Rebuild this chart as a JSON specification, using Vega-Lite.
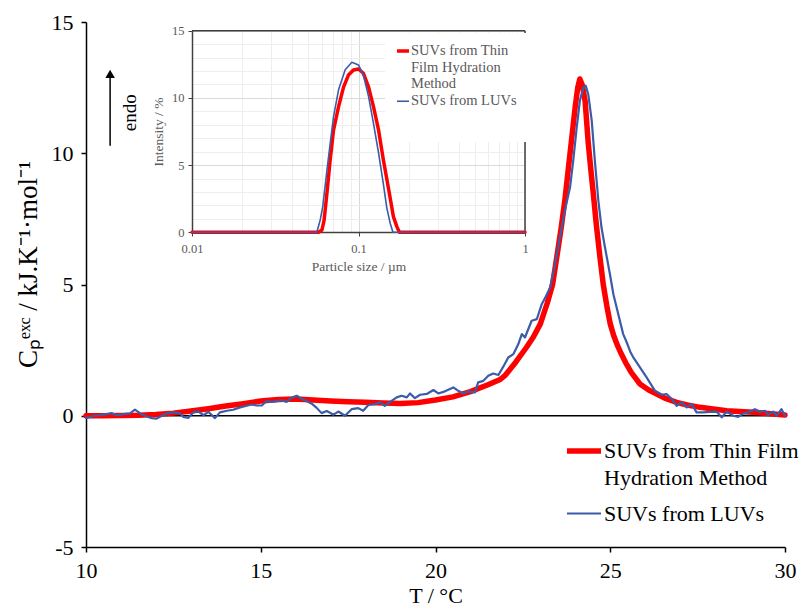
{
  "$schema": "https://vega.github.io/schema/vega-lite/v6.json",
  "autosize": "none",
  "width": 699,
  "height": 525,
  "padding": {"left": 86, "top": 22, "right": 16, "bottom": 62},
  "background": "white",
  "config": {"font": "Liberation Serif", "view": {"stroke": null}},
  "datasets": {
    "main": [
      {"series": "SUVs from Thin Film Hydration Method", "T": 10.0, "C": 0.0},
      {"series": "SUVs from Thin Film Hydration Method", "T": 10.5, "C": 0.0},
      {"series": "SUVs from Thin Film Hydration Method", "T": 11.0, "C": 0.01},
      {"series": "SUVs from Thin Film Hydration Method", "T": 11.5, "C": 0.02},
      {"series": "SUVs from Thin Film Hydration Method", "T": 12.0, "C": 0.05},
      {"series": "SUVs from Thin Film Hydration Method", "T": 12.5, "C": 0.1},
      {"series": "SUVs from Thin Film Hydration Method", "T": 13.0, "C": 0.18},
      {"series": "SUVs from Thin Film Hydration Method", "T": 13.5, "C": 0.27},
      {"series": "SUVs from Thin Film Hydration Method", "T": 14.0, "C": 0.37},
      {"series": "SUVs from Thin Film Hydration Method", "T": 14.5, "C": 0.46},
      {"series": "SUVs from Thin Film Hydration Method", "T": 15.0, "C": 0.56},
      {"series": "SUVs from Thin Film Hydration Method", "T": 15.5, "C": 0.62},
      {"series": "SUVs from Thin Film Hydration Method", "T": 16.0, "C": 0.64},
      {"series": "SUVs from Thin Film Hydration Method", "T": 16.5, "C": 0.6},
      {"series": "SUVs from Thin Film Hydration Method", "T": 17.0, "C": 0.56},
      {"series": "SUVs from Thin Film Hydration Method", "T": 17.5, "C": 0.53},
      {"series": "SUVs from Thin Film Hydration Method", "T": 18.0, "C": 0.51},
      {"series": "SUVs from Thin Film Hydration Method", "T": 18.5, "C": 0.49},
      {"series": "SUVs from Thin Film Hydration Method", "T": 19.0, "C": 0.47},
      {"series": "SUVs from Thin Film Hydration Method", "T": 19.5, "C": 0.5},
      {"series": "SUVs from Thin Film Hydration Method", "T": 20.0, "C": 0.6},
      {"series": "SUVs from Thin Film Hydration Method", "T": 20.5, "C": 0.72},
      {"series": "SUVs from Thin Film Hydration Method", "T": 21.0, "C": 0.92},
      {"series": "SUVs from Thin Film Hydration Method", "T": 21.5, "C": 1.18},
      {"series": "SUVs from Thin Film Hydration Method", "T": 21.85, "C": 1.38},
      {"series": "SUVs from Thin Film Hydration Method", "T": 22.0, "C": 1.55},
      {"series": "SUVs from Thin Film Hydration Method", "T": 22.3, "C": 2.05},
      {"series": "SUVs from Thin Film Hydration Method", "T": 22.6, "C": 2.6},
      {"series": "SUVs from Thin Film Hydration Method", "T": 22.8, "C": 3.0},
      {"series": "SUVs from Thin Film Hydration Method", "T": 23.0, "C": 3.5},
      {"series": "SUVs from Thin Film Hydration Method", "T": 23.2, "C": 4.3},
      {"series": "SUVs from Thin Film Hydration Method", "T": 23.35, "C": 5.0},
      {"series": "SUVs from Thin Film Hydration Method", "T": 23.5, "C": 6.3},
      {"series": "SUVs from Thin Film Hydration Method", "T": 23.6, "C": 7.2},
      {"series": "SUVs from Thin Film Hydration Method", "T": 23.7, "C": 8.2},
      {"series": "SUVs from Thin Film Hydration Method", "T": 23.8, "C": 9.4},
      {"series": "SUVs from Thin Film Hydration Method", "T": 23.9, "C": 10.6},
      {"series": "SUVs from Thin Film Hydration Method", "T": 24.0, "C": 11.8},
      {"series": "SUVs from Thin Film Hydration Method", "T": 24.07, "C": 12.5},
      {"series": "SUVs from Thin Film Hydration Method", "T": 24.13, "C": 12.83},
      {"series": "SUVs from Thin Film Hydration Method", "T": 24.2, "C": 12.6},
      {"series": "SUVs from Thin Film Hydration Method", "T": 24.28, "C": 12.0},
      {"series": "SUVs from Thin Film Hydration Method", "T": 24.37, "C": 10.4},
      {"series": "SUVs from Thin Film Hydration Method", "T": 24.45, "C": 9.3},
      {"series": "SUVs from Thin Film Hydration Method", "T": 24.52, "C": 8.4},
      {"series": "SUVs from Thin Film Hydration Method", "T": 24.6, "C": 7.3},
      {"series": "SUVs from Thin Film Hydration Method", "T": 24.7, "C": 6.1},
      {"series": "SUVs from Thin Film Hydration Method", "T": 24.8, "C": 5.0},
      {"series": "SUVs from Thin Film Hydration Method", "T": 24.9, "C": 4.2},
      {"series": "SUVs from Thin Film Hydration Method", "T": 25.0, "C": 3.5},
      {"series": "SUVs from Thin Film Hydration Method", "T": 25.1, "C": 3.05},
      {"series": "SUVs from Thin Film Hydration Method", "T": 25.2, "C": 2.7},
      {"series": "SUVs from Thin Film Hydration Method", "T": 25.3, "C": 2.4},
      {"series": "SUVs from Thin Film Hydration Method", "T": 25.45, "C": 2.0},
      {"series": "SUVs from Thin Film Hydration Method", "T": 25.6, "C": 1.65},
      {"series": "SUVs from Thin Film Hydration Method", "T": 25.85, "C": 1.21},
      {"series": "SUVs from Thin Film Hydration Method", "T": 26.1, "C": 0.98},
      {"series": "SUVs from Thin Film Hydration Method", "T": 26.33, "C": 0.83},
      {"series": "SUVs from Thin Film Hydration Method", "T": 26.6, "C": 0.65},
      {"series": "SUVs from Thin Film Hydration Method", "T": 26.9, "C": 0.51},
      {"series": "SUVs from Thin Film Hydration Method", "T": 27.2, "C": 0.41},
      {"series": "SUVs from Thin Film Hydration Method", "T": 27.57, "C": 0.32},
      {"series": "SUVs from Thin Film Hydration Method", "T": 28.0, "C": 0.25},
      {"series": "SUVs from Thin Film Hydration Method", "T": 28.33, "C": 0.19},
      {"series": "SUVs from Thin Film Hydration Method", "T": 28.7, "C": 0.16},
      {"series": "SUVs from Thin Film Hydration Method", "T": 29.09, "C": 0.13},
      {"series": "SUVs from Thin Film Hydration Method", "T": 29.5, "C": 0.09},
      {"series": "SUVs from Thin Film Hydration Method", "T": 30.0, "C": 0.03},
      {"series": "SUVs from LUVs", "T": 10.0, "C": -0.08},
      {"series": "SUVs from LUVs", "T": 10.1, "C": -0.05},
      {"series": "SUVs from LUVs", "T": 10.21, "C": 0.0},
      {"series": "SUVs from LUVs", "T": 10.4, "C": 0.02},
      {"series": "SUVs from LUVs", "T": 10.59, "C": 0.06},
      {"series": "SUVs from LUVs", "T": 10.73, "C": 0.1},
      {"series": "SUVs from LUVs", "T": 10.88, "C": 0.02},
      {"series": "SUVs from LUVs", "T": 11.07, "C": 0.06},
      {"series": "SUVs from LUVs", "T": 11.26, "C": 0.09},
      {"series": "SUVs from LUVs", "T": 11.4, "C": 0.23},
      {"series": "SUVs from LUVs", "T": 11.55, "C": 0.09},
      {"series": "SUVs from LUVs", "T": 11.74, "C": -0.03},
      {"series": "SUVs from LUVs", "T": 11.88, "C": -0.09},
      {"series": "SUVs from LUVs", "T": 12.02, "C": -0.11},
      {"series": "SUVs from LUVs", "T": 12.17, "C": 0.0},
      {"series": "SUVs from LUVs", "T": 12.31, "C": 0.09},
      {"series": "SUVs from LUVs", "T": 12.5, "C": 0.13},
      {"series": "SUVs from LUVs", "T": 12.69, "C": 0.09},
      {"series": "SUVs from LUVs", "T": 12.78, "C": -0.04},
      {"series": "SUVs from LUVs", "T": 12.93, "C": -0.08},
      {"series": "SUVs from LUVs", "T": 13.07, "C": 0.13},
      {"series": "SUVs from LUVs", "T": 13.21, "C": 0.17},
      {"series": "SUVs from LUVs", "T": 13.36, "C": 0.02},
      {"series": "SUVs from LUVs", "T": 13.5, "C": 0.15},
      {"series": "SUVs from LUVs", "T": 13.69, "C": -0.09},
      {"series": "SUVs from LUVs", "T": 13.83, "C": 0.13},
      {"series": "SUVs from LUVs", "T": 14.03, "C": 0.19},
      {"series": "SUVs from LUVs", "T": 14.21, "C": 0.23},
      {"series": "SUVs from LUVs", "T": 14.41, "C": 0.32},
      {"series": "SUVs from LUVs", "T": 14.6, "C": 0.38},
      {"series": "SUVs from LUVs", "T": 14.74, "C": 0.43},
      {"series": "SUVs from LUVs", "T": 14.88, "C": 0.39},
      {"series": "SUVs from LUVs", "T": 15.03, "C": 0.39},
      {"series": "SUVs from LUVs", "T": 15.17, "C": 0.56},
      {"series": "SUVs from LUVs", "T": 15.31, "C": 0.53},
      {"series": "SUVs from LUVs", "T": 15.46, "C": 0.56},
      {"series": "SUVs from LUVs", "T": 15.6, "C": 0.59},
      {"series": "SUVs from LUVs", "T": 15.74, "C": 0.53},
      {"series": "SUVs from LUVs", "T": 15.89, "C": 0.69},
      {"series": "SUVs from LUVs", "T": 16.03, "C": 0.76},
      {"series": "SUVs from LUVs", "T": 16.17, "C": 0.65},
      {"series": "SUVs from LUVs", "T": 16.31, "C": 0.56},
      {"series": "SUVs from LUVs", "T": 16.46, "C": 0.46},
      {"series": "SUVs from LUVs", "T": 16.6, "C": 0.3},
      {"series": "SUVs from LUVs", "T": 16.74, "C": 0.1},
      {"series": "SUVs from LUVs", "T": 16.89, "C": 0.18},
      {"series": "SUVs from LUVs", "T": 17.08, "C": 0.04},
      {"series": "SUVs from LUVs", "T": 17.22, "C": 0.16},
      {"series": "SUVs from LUVs", "T": 17.41, "C": 0.0},
      {"series": "SUVs from LUVs", "T": 17.6, "C": 0.25},
      {"series": "SUVs from LUVs", "T": 17.79, "C": 0.29},
      {"series": "SUVs from LUVs", "T": 17.93, "C": 0.19},
      {"series": "SUVs from LUVs", "T": 18.08, "C": 0.41},
      {"series": "SUVs from LUVs", "T": 18.27, "C": 0.44},
      {"series": "SUVs from LUVs", "T": 18.41, "C": 0.51},
      {"series": "SUVs from LUVs", "T": 18.55, "C": 0.38},
      {"series": "SUVs from LUVs", "T": 18.7, "C": 0.53},
      {"series": "SUVs from LUVs", "T": 18.89, "C": 0.7},
      {"series": "SUVs from LUVs", "T": 19.03, "C": 0.76},
      {"series": "SUVs from LUVs", "T": 19.18, "C": 0.7},
      {"series": "SUVs from LUVs", "T": 19.27, "C": 0.85},
      {"series": "SUVs from LUVs", "T": 19.41, "C": 0.67},
      {"series": "SUVs from LUVs", "T": 19.56, "C": 0.8},
      {"series": "SUVs from LUVs", "T": 19.75, "C": 0.83},
      {"series": "SUVs from LUVs", "T": 19.94, "C": 0.98},
      {"series": "SUVs from LUVs", "T": 20.08, "C": 0.85},
      {"series": "SUVs from LUVs", "T": 20.27, "C": 0.93},
      {"series": "SUVs from LUVs", "T": 20.51, "C": 1.08},
      {"series": "SUVs from LUVs", "T": 20.65, "C": 0.95},
      {"series": "SUVs from LUVs", "T": 20.8, "C": 0.85},
      {"series": "SUVs from LUVs", "T": 20.94, "C": 0.93},
      {"series": "SUVs from LUVs", "T": 21.13, "C": 0.89},
      {"series": "SUVs from LUVs", "T": 21.22, "C": 1.27},
      {"series": "SUVs from LUVs", "T": 21.37, "C": 1.33},
      {"series": "SUVs from LUVs", "T": 21.51, "C": 1.52},
      {"series": "SUVs from LUVs", "T": 21.65, "C": 1.61},
      {"series": "SUVs from LUVs", "T": 21.8, "C": 1.55},
      {"series": "SUVs from LUVs", "T": 21.94, "C": 1.87},
      {"series": "SUVs from LUVs", "T": 22.08, "C": 2.22},
      {"series": "SUVs from LUVs", "T": 22.23, "C": 2.35},
      {"series": "SUVs from LUVs", "T": 22.37, "C": 2.73},
      {"series": "SUVs from LUVs", "T": 22.47, "C": 3.11},
      {"series": "SUVs from LUVs", "T": 22.56, "C": 2.98},
      {"series": "SUVs from LUVs", "T": 22.75, "C": 3.62},
      {"series": "SUVs from LUVs", "T": 22.9, "C": 3.68},
      {"series": "SUVs from LUVs", "T": 23.04, "C": 4.25},
      {"series": "SUVs from LUVs", "T": 23.16, "C": 4.55},
      {"series": "SUVs from LUVs", "T": 23.28, "C": 4.89},
      {"series": "SUVs from LUVs", "T": 23.42, "C": 5.78},
      {"series": "SUVs from LUVs", "T": 23.56, "C": 6.79},
      {"series": "SUVs from LUVs", "T": 23.7, "C": 7.81},
      {"series": "SUVs from LUVs", "T": 23.85, "C": 8.7},
      {"series": "SUVs from LUVs", "T": 23.94, "C": 9.71},
      {"series": "SUVs from LUVs", "T": 24.04, "C": 10.98},
      {"series": "SUVs from LUVs", "T": 24.13, "C": 12.0},
      {"series": "SUVs from LUVs", "T": 24.23, "C": 12.5},
      {"series": "SUVs from LUVs", "T": 24.3, "C": 12.57},
      {"series": "SUVs from LUVs", "T": 24.37, "C": 12.25},
      {"series": "SUVs from LUVs", "T": 24.47, "C": 11.24},
      {"series": "SUVs from LUVs", "T": 24.56, "C": 9.71},
      {"series": "SUVs from LUVs", "T": 24.66, "C": 8.19},
      {"series": "SUVs from LUVs", "T": 24.75, "C": 7.17},
      {"series": "SUVs from LUVs", "T": 24.85, "C": 6.41},
      {"series": "SUVs from LUVs", "T": 24.99, "C": 5.4},
      {"series": "SUVs from LUVs", "T": 25.09, "C": 4.63},
      {"series": "SUVs from LUVs", "T": 25.23, "C": 3.87},
      {"series": "SUVs from LUVs", "T": 25.37, "C": 3.11},
      {"series": "SUVs from LUVs", "T": 25.47, "C": 2.8},
      {"series": "SUVs from LUVs", "T": 25.57, "C": 2.45},
      {"series": "SUVs from LUVs", "T": 25.66, "C": 2.22},
      {"series": "SUVs from LUVs", "T": 25.85, "C": 1.84},
      {"series": "SUVs from LUVs", "T": 26.04, "C": 1.46},
      {"series": "SUVs from LUVs", "T": 26.28, "C": 0.95},
      {"series": "SUVs from LUVs", "T": 26.47, "C": 0.8},
      {"series": "SUVs from LUVs", "T": 26.61, "C": 0.83},
      {"series": "SUVs from LUVs", "T": 26.76, "C": 0.64},
      {"series": "SUVs from LUVs", "T": 26.9, "C": 0.38},
      {"series": "SUVs from LUVs", "T": 27.04, "C": 0.51},
      {"series": "SUVs from LUVs", "T": 27.19, "C": 0.32},
      {"series": "SUVs from LUVs", "T": 27.33, "C": 0.45},
      {"series": "SUVs from LUVs", "T": 27.47, "C": 0.13},
      {"series": "SUVs from LUVs", "T": 27.66, "C": 0.13},
      {"series": "SUVs from LUVs", "T": 27.85, "C": 0.15},
      {"series": "SUVs from LUVs", "T": 28.04, "C": 0.16},
      {"series": "SUVs from LUVs", "T": 28.19, "C": -0.06},
      {"series": "SUVs from LUVs", "T": 28.33, "C": 0.16},
      {"series": "SUVs from LUVs", "T": 28.52, "C": 0.0},
      {"series": "SUVs from LUVs", "T": 28.66, "C": -0.04},
      {"series": "SUVs from LUVs", "T": 28.81, "C": 0.09},
      {"series": "SUVs from LUVs", "T": 28.95, "C": 0.13},
      {"series": "SUVs from LUVs", "T": 29.14, "C": 0.25},
      {"series": "SUVs from LUVs", "T": 29.28, "C": 0.15},
      {"series": "SUVs from LUVs", "T": 29.43, "C": 0.19},
      {"series": "SUVs from LUVs", "T": 29.52, "C": 0.04},
      {"series": "SUVs from LUVs", "T": 29.66, "C": 0.16},
      {"series": "SUVs from LUVs", "T": 29.76, "C": 0.0},
      {"series": "SUVs from LUVs", "T": 29.9, "C": 0.25},
      {"series": "SUVs from LUVs", "T": 30.0, "C": 0.0}
    ],
    "inset": [
      {"series": "SUVs from Thin Film Hydration Method", "d": 0.01, "I": 0},
      {"series": "SUVs from Thin Film Hydration Method", "d": 0.03, "I": 0},
      {"series": "SUVs from Thin Film Hydration Method", "d": 0.0575, "I": 0},
      {"series": "SUVs from Thin Film Hydration Method", "d": 0.0603, "I": 0.17},
      {"series": "SUVs from Thin Film Hydration Method", "d": 0.0622, "I": 0.92},
      {"series": "SUVs from Thin Film Hydration Method", "d": 0.0646, "I": 2.9},
      {"series": "SUVs from Thin Film Hydration Method", "d": 0.0676, "I": 5.4},
      {"series": "SUVs from Thin Film Hydration Method", "d": 0.0708, "I": 7.6},
      {"series": "SUVs from Thin Film Hydration Method", "d": 0.0759, "I": 9.35},
      {"series": "SUVs from Thin Film Hydration Method", "d": 0.0813, "I": 10.8},
      {"series": "SUVs from Thin Film Hydration Method", "d": 0.087, "I": 11.7},
      {"series": "SUVs from Thin Film Hydration Method", "d": 0.0933, "I": 12.08},
      {"series": "SUVs from Thin Film Hydration Method", "d": 0.1, "I": 12.15},
      {"series": "SUVs from Thin Film Hydration Method", "d": 0.107, "I": 11.83},
      {"series": "SUVs from Thin Film Hydration Method", "d": 0.115, "I": 10.8},
      {"series": "SUVs from Thin Film Hydration Method", "d": 0.123, "I": 9.35},
      {"series": "SUVs from Thin Film Hydration Method", "d": 0.132, "I": 7.6},
      {"series": "SUVs from Thin Film Hydration Method", "d": 0.141, "I": 5.4},
      {"series": "SUVs from Thin Film Hydration Method", "d": 0.152, "I": 3.15},
      {"series": "SUVs from Thin Film Hydration Method", "d": 0.162, "I": 1.17},
      {"series": "SUVs from Thin Film Hydration Method", "d": 0.17, "I": 0.42},
      {"series": "SUVs from Thin Film Hydration Method", "d": 0.176, "I": 0},
      {"series": "SUVs from Thin Film Hydration Method", "d": 0.5, "I": 0},
      {"series": "SUVs from Thin Film Hydration Method", "d": 1, "I": 0},
      {"series": "SUVs from LUVs", "d": 0.01, "I": 0},
      {"series": "SUVs from LUVs", "d": 0.03, "I": 0},
      {"series": "SUVs from LUVs", "d": 0.0562, "I": 0},
      {"series": "SUVs from LUVs", "d": 0.0589, "I": 0.92},
      {"series": "SUVs from LUVs", "d": 0.061, "I": 1.9},
      {"series": "SUVs from LUVs", "d": 0.0646, "I": 4.6},
      {"series": "SUVs from LUVs", "d": 0.0676, "I": 6.6},
      {"series": "SUVs from LUVs", "d": 0.0708, "I": 8.6},
      {"series": "SUVs from LUVs", "d": 0.0759, "I": 10.6},
      {"series": "SUVs from LUVs", "d": 0.0832, "I": 12.1},
      {"series": "SUVs from LUVs", "d": 0.0912, "I": 12.65},
      {"series": "SUVs from LUVs", "d": 0.1, "I": 12.45},
      {"series": "SUVs from LUVs", "d": 0.107, "I": 11.7},
      {"series": "SUVs from LUVs", "d": 0.115, "I": 10.1},
      {"series": "SUVs from LUVs", "d": 0.123, "I": 8.1},
      {"series": "SUVs from LUVs", "d": 0.132, "I": 5.9},
      {"series": "SUVs from LUVs", "d": 0.141, "I": 3.6},
      {"series": "SUVs from LUVs", "d": 0.148, "I": 1.8},
      {"series": "SUVs from LUVs", "d": 0.155, "I": 0.67},
      {"series": "SUVs from LUVs", "d": 0.161, "I": 0},
      {"series": "SUVs from LUVs", "d": 0.5, "I": 0},
      {"series": "SUVs from LUVs", "d": 1, "I": 0}
    ]
  },
  "resolve": {
    "scale": {"x": "independent", "y": "independent", "color": "independent", "strokeWidth": "independent"},
    "axis": {"x": "independent", "y": "independent"},
    "legend": {"color": "independent", "strokeWidth": "independent"}
  },
  "layer": [
    {
      "layer": [
        {
          "data": {"values": [{}]},
          "mark": {"type": "rule", "color": "black", "strokeWidth": 1.5},
          "encoding": {"y": {"datum": 0, "type": "quantitative"}}
        },
        {
          "data": {"name": "main"},
          "mark": {"type": "line", "strokeCap": "round", "strokeJoin": "round"},
          "encoding": {
            "x": {
              "field": "T", "type": "quantitative",
              "scale": {"domain": [10, 30], "nice": false, "zero": false},
              "axis": {
                "values": [10, 15, 20, 25, 30], "title": "T / °C", "grid": false,
                "domainColor": "black", "domainWidth": 1.5, "tickColor": "black", "tickWidth": 1.5, "tickSize": 5,
                "labelFont": "Liberation Serif", "labelFontSize": 22, "labelColor": "black", "labelPadding": 8,
                "labelFlush": false, "labelOverlap": false,
                "titleFont": "Liberation Serif", "titleFontSize": 22, "titleFontWeight": "normal", "titleColor": "black", "titlePadding": 4
              }
            },
            "y": {
              "field": "C", "type": "quantitative",
              "scale": {"domain": [-5, 15], "nice": false, "zero": false},
              "axis": {
                "values": [-5, 0, 5, 10, 15], "title": "Cₚᵉˣᶜ / kJ.K⁻¹·mol⁻¹", "grid": false,
                "labelExpr": "'' + datum.value",
                "domainColor": "black", "domainWidth": 1.5, "tickColor": "black", "tickWidth": 1.5, "tickSize": 5,
                "labelFont": "Liberation Serif", "labelFontSize": 22, "labelColor": "black", "labelPadding": 8,
                "labelFlush": false, "labelOverlap": false,
                "titleFont": "Liberation Serif", "titleFontSize": 27, "titleFontWeight": "normal", "titleColor": "black", "titlePadding": 9,
                "titleY": 242
              }
            },
            "color": {
              "field": "series", "type": "nominal",
              "scale": {"domain": ["SUVs from Thin Film Hydration Method", "SUVs from LUVs"], "range": ["#ff0000", "#3b5ca8"]},
              "legend": {
                "orient": "none", "legendX": 478, "legendY": 409, "title": null,
                "symbolType": "stroke", "symbolSize": 1156, "padding": 0,
                "labelFont": "Liberation Serif", "labelFontSize": 22, "labelColor": "black", "labelLimit": 400,
                "labelOffset": 0, "rowPadding": 6,
                "labelExpr": "datum.value == 'SUVs from Thin Film Hydration Method' ? ['SUVs from Thin Film', 'Hydration Method'] : datum.label",
                "encoding": {"labels": {"lineHeight": {"value": 26.7}}}
              }
            },
            "strokeWidth": {
              "field": "series", "type": "nominal",
              "scale": {"domain": ["SUVs from Thin Film Hydration Method", "SUVs from LUVs"], "range": [5.5, 2.2]},
              "legend": {
                "orient": "none", "legendX": 478, "legendY": 409, "title": null,
                "symbolType": "stroke", "symbolSize": 1156, "padding": 0,
                "labelFont": "Liberation Serif", "labelFontSize": 22, "labelColor": "black", "labelLimit": 400,
                "labelOffset": 0, "rowPadding": 6,
                "labelExpr": "datum.value == 'SUVs from Thin Film Hydration Method' ? ['SUVs from Thin Film', 'Hydration Method'] : datum.label"
              }
            }
          }
        },
        {
          "data": {"values": [{}]},
          "mark": {"type": "rule", "color": "black", "strokeWidth": 1.5},
          "encoding": {
            "x": {"datum": 10.69, "type": "quantitative"},
            "y": {"datum": 10.29, "type": "quantitative"},
            "y2": {"datum": 12.9}
          }
        },
        {
          "data": {"values": [{}]},
          "mark": {"type": "point", "shape": "triangle-up", "filled": true, "color": "black", "size": 90, "opacity": 1},
          "encoding": {
            "x": {"datum": 10.69, "type": "quantitative"},
            "y": {"datum": 13.02, "type": "quantitative"}
          }
        },
        {
          "data": {"values": [{}]},
          "mark": {"type": "text", "text": "endo", "angle": 270, "font": "Liberation Serif", "fontSize": 19, "color": "black", "align": "center", "baseline": "middle"},
          "encoding": {
            "x": {"datum": 11.26, "type": "quantitative"},
            "y": {"datum": 11.54, "type": "quantitative"}
          }
        }
      ]
    },
    {
      "resolve": {"axis": {"x": "independent", "y": "independent"}},
      "layer": [
        {
          "data": {"values": [{}]},
          "mark": {"type": "rule", "color": "#404040", "strokeWidth": 1.5},
          "encoding": {
            "x": {
              "datum": 1, "type": "quantitative",
              "axis": {
                "orient": "top", "offset": 0,
                "values": [0.01, 0.02, 0.03, 0.04, 0.05, 0.06, 0.07, 0.08, 0.09, 0.1, 0.2, 0.3, 0.4, 0.5, 0.6, 0.7, 0.8, 0.9, 1],
                "grid": true,
                "gridColor": {"condition": {"test": "datum.value == 0.01 || datum.value == 0.1 || datum.value == 1", "value": "#d9d9d9"}, "value": "#eeeeee"},
                "gridWidth": 1,
                "domain": false, "ticks": false, "labels": false, "title": null
              }
            },
            "y": {
              "datum": 0, "type": "quantitative",
              "axis": {
                "orient": "left", "offset": 0,
                "values": [0, 1, 2, 3, 4, 5, 6, 7, 8, 9, 10, 11, 12, 13, 14, 15],
                "grid": true,
                "gridColor": {"condition": {"test": "datum.value % 5 == 0", "value": "#d9d9d9"}, "value": "#eeeeee"},
                "gridWidth": 1,
                "domain": false, "ticks": false, "labels": false, "title": null
              }
            },
            "y2": {"datum": 15}
          }
        },
        {
          "data": {"name": "inset"},
          "mark": {"type": "line", "strokeCap": "round", "strokeJoin": "round"},
          "encoding": {
            "x": {
              "field": "d", "type": "quantitative",
              "scale": {"type": "log", "domain": [0.01, 1], "range": [106, 439], "nice": false},
              "axis": {
                "orient": "bottom", "offset": -315,
                "values": [0.01, 0.1, 1],
                "labelExpr": "datum.value == 0.01 ? '0.01' : datum.value == 0.1 ? '0.1' : '1'",
                "title": "Particle size / µm",
                "grid": false,
                "tickSize": 4, "tickColor": "#404040",
                "domainColor": "#404040", "domainWidth": 1.5,
                "labelFont": "Liberation Serif", "labelFontSize": 12.5, "labelColor": "#595959", "labelPadding": 6,
                "labelFlush": false, "labelOverlap": false,
                "titleFont": "Liberation Serif", "titleFontSize": 13.5, "titleFontWeight": "normal", "titleColor": "#595959", "titlePadding": 5
              }
            },
            "y": {
              "field": "I", "type": "quantitative",
              "scale": {"domain": [0, 15], "range": [210.3, 8.7], "nice": false, "zero": false},
              "axis": {
                "orient": "left", "offset": -106,
                "values": [0, 5, 10, 15],
                "title": "Intensity / %",
                "grid": false,
                "tickSize": 4, "tickColor": "#404040",
                "domainColor": "#404040", "domainWidth": 1.5,
                "labelFont": "Liberation Serif", "labelFontSize": 12.5, "labelColor": "#595959", "labelPadding": 4,
                "labelFlush": false, "labelOverlap": false,
                "titleFont": "Liberation Serif", "titleFontSize": 13.5, "titleFontWeight": "normal", "titleColor": "#595959", "titlePadding": 6
              }
            },
            "color": {
              "field": "series", "type": "nominal",
              "scale": {"domain": ["SUVs from Thin Film Hydration Method", "SUVs from LUVs"], "range": ["#ff0000", "#3b5ca8"]},
              "legend": {
                "orient": "none", "legendX": 299, "legendY": 11, "title": " ", "titleOrient": "bottom", "titleFontSize": 20, "titlePadding": 4,
                "symbolType": "stroke", "symbolSize": 144, "padding": 10, "fillColor": "white",
                "labelFont": "Liberation Serif", "labelFontSize": 14.5, "labelColor": "#595959", "labelLimit": 300,
                "labelOffset": 0, "rowPadding": 2,
                "labelExpr": "datum.value == 'SUVs from Thin Film Hydration Method' ? ['SUVs from Thin', 'Film Hydration', 'Method'] : datum.label",
                "encoding": {"labels": {"lineHeight": {"value": 16.7}}}
              }
            },
            "strokeWidth": {
              "field": "series", "type": "nominal",
              "scale": {"domain": ["SUVs from Thin Film Hydration Method", "SUVs from LUVs"], "range": [3.5, 1.6]},
              "legend": {
                "orient": "none", "legendX": 299, "legendY": 11, "title": " ", "titleOrient": "bottom", "titleFontSize": 20, "titlePadding": 4,
                "symbolType": "stroke", "symbolSize": 144, "padding": 10, "fillColor": "white",
                "labelFont": "Liberation Serif", "labelFontSize": 14.5, "labelColor": "#595959", "labelLimit": 300,
                "labelOffset": 0, "rowPadding": 2,
                "labelExpr": "datum.value == 'SUVs from Thin Film Hydration Method' ? ['SUVs from Thin', 'Film Hydration', 'Method'] : datum.label"
              }
            }
          }
        },
        {
          "data": {"values": [{}]},
          "mark": {"type": "rule", "color": "#404040", "strokeWidth": 1.5},
          "encoding": {
            "x": {
              "datum": 0.01, "type": "quantitative",
              "axis": {"orient": "top", "domain": false, "ticks": false, "labels": false, "grid": false, "title": null}
            },
            "x2": {"datum": 1},
            "y": {
              "datum": 15, "type": "quantitative",
              "axis": {"orient": "right", "domain": false, "ticks": false, "labels": false, "grid": false, "title": null}
            }
          }
        }
      ]
    }
  ]
}
